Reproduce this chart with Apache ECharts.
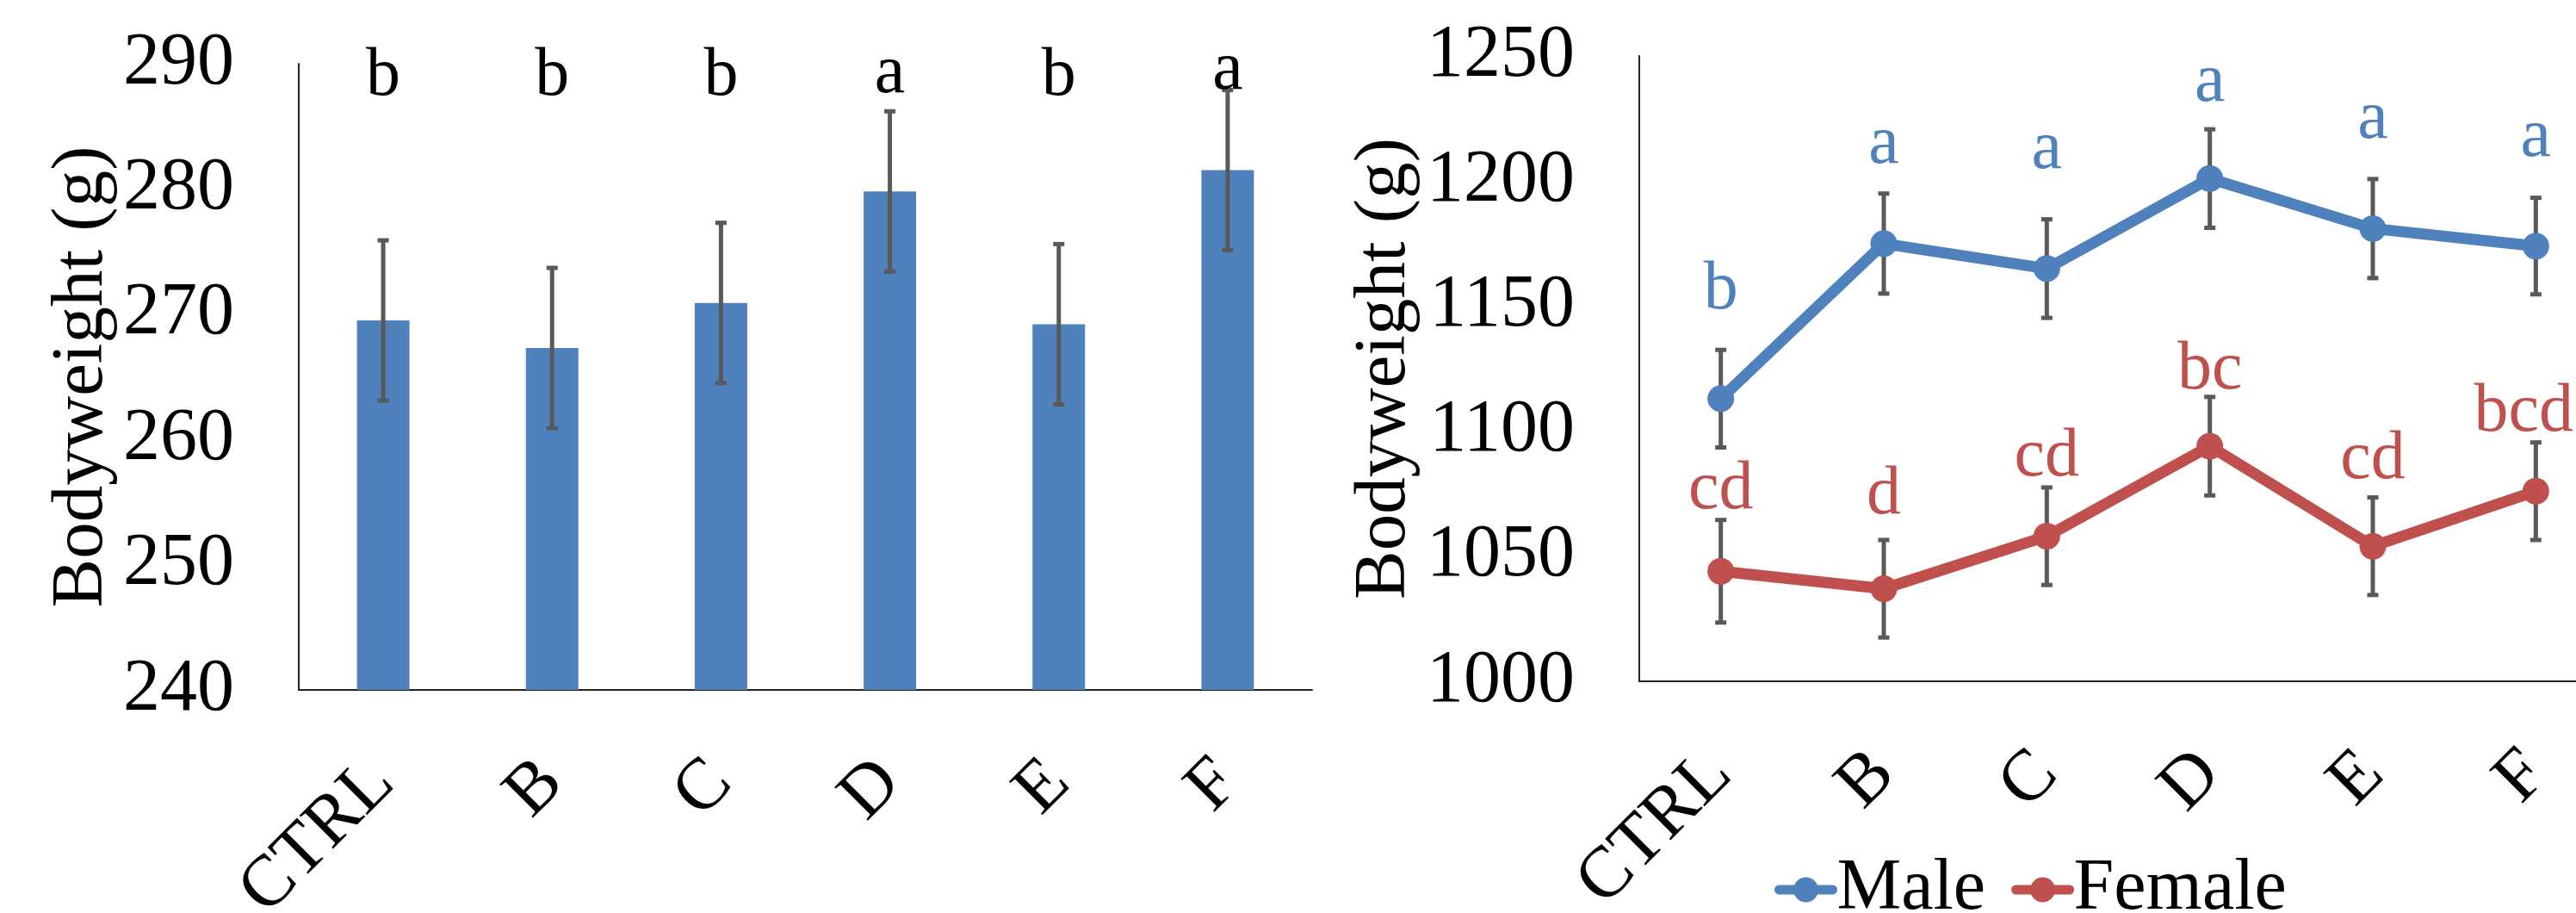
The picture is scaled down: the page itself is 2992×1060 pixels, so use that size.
<!DOCTYPE html>
<html>
<head>
<meta charset="utf-8">
<script src="https://cdn.jsdelivr.net/npm/echarts@6/dist/echarts.min.js"></script>
<style>
  html, body { margin: 0; padding: 0; background: #fff; }
  #main { width: 2992px; height: 1060px; }
</style>
</head>
<body>
<div id="main"></div>
<script>
// groups on both panels
var groups = ['CTRL', 'B', 'C', 'D', 'E', 'F'];

// left panel: bars with error bars
var barMean = [269.5, 267.3, 270.9, 279.8, 269.2, 281.5];
var barErr = [6.4, 6.4, 6.4, 6.4, 6.4, 6.4];
var barLetters = ['b', 'b', 'b', 'a', 'b', 'a'];
var barLetterY = [287.3, 287.3, 287.3, 287.5, 287.3, 287.8];

// right panel: male / female lines
var maleMean = [1113, 1175, 1165, 1201, 1181, 1174];
var maleErr = [19.5, 20, 19.7, 19.7, 19.8, 19.3];
var maleLetters = ['b', 'a', 'a', 'a', 'a', 'a'];
var maleLetterY = [1148, 1206, 1204, 1231, 1216, 1209];

var femaleMean = [1044, 1037, 1058, 1094, 1054, 1076];
var femaleErr = [20.5, 19.5, 19.5, 19.7, 19.5, 19.5];
var femaleLetters = ['cd', 'd', 'cd', 'bc', 'cd', 'bcd'];
var femaleLetterY = [1068, 1066, 1081, 1116, 1080, 1099];

var leftTicks = [240, 250, 260, 270, 280, 290];
var rightTicks = [1000, 1050, 1100, 1150, 1200, 1250];

var FONT = '"Liberation Serif", "Times New Roman", serif';
var BLUE = '#4F81BD', RED = '#C0504D', GREY = '#595959';

function errorSeries(xi, mean, err, z) {
  return {
    type: 'custom',
    xAxisIndex: xi, yAxisIndex: xi, z: z,
    silent: true,
    data: groups.map(function (g, i) { return [i, mean[i] - err[i], mean[i] + err[i]]; }),
    renderItem: function (params, api) {
      var lo = api.coord([api.value(0), api.value(1)]);
      var hi = api.coord([api.value(0), api.value(2)]);
      var c = 6.5;
      var st = { stroke: GREY, lineWidth: 5 };
      return {
        type: 'group',
        children: [
          { type: 'line', shape: { x1: lo[0], y1: lo[1], x2: hi[0], y2: hi[1] }, style: st },
          { type: 'line', shape: { x1: lo[0] - c, y1: lo[1], x2: lo[0] + c, y2: lo[1] }, style: st },
          { type: 'line', shape: { x1: hi[0] - c, y1: hi[1], x2: hi[0] + c, y2: hi[1] }, style: st }
        ]
      };
    }
  };
}

// letters sit with their baseline on the given value
function letterSeries(xi, ys, letters, color, size) {
  return {
    type: 'custom',
    xAxisIndex: xi, yAxisIndex: xi, z: 10,
    silent: true,
    data: groups.map(function (g, i) { return [i, ys[i]]; }),
    renderItem: function (params, api) {
      var p = api.coord([api.value(0), api.value(1)]);
      var x = p[0];
      if (letters[params.dataIndex] === 'bcd') x -= 14;
      return {
        type: 'text',
        style: {
          text: letters[params.dataIndex],
          x: x, y: p[1] - size * 0.305,
          align: 'center', verticalAlign: 'middle',
          fill: color, font: size + 'px ' + FONT
        }
      };
    }
  };
}

function catAxis(gi) {
  return {
    type: 'category', gridIndex: gi, data: groups,
    axisTick: { show: false },
    axisLine: { lineStyle: { color: '#222', width: 2 } },
    axisLabel: { rotate: 45, interval: 0, margin: 95, fontSize: 84, fontFamily: FONT, color: '#000' }
  };
}

function valAxis(gi, ticks, gap) {
  return {
    type: 'value', gridIndex: gi,
    min: ticks[0], max: ticks[ticks.length - 1], interval: ticks[1] - ticks[0],
    splitLine: { show: false },
    axisTick: { show: false },
    axisLine: { show: true, lineStyle: { color: '#222', width: 2 } },
    axisLabel: {
      margin: 75, fontSize: 86, fontFamily: FONT, color: '#000',
      formatter: function (v) { return String(v); }
    },
    name: 'Bodyweight (g)', nameLocation: 'middle', nameGap: gap,
    nameMoveOverlap: false,
    nameTextStyle: { fontSize: 85, fontFamily: FONT, color: '#000' }
  };
}

var option = {
  backgroundColor: '#fff',
  animation: false,
  grid: [
    { left: 347, top: 74, width: 1177, height: 727, containLabel: false, outerBoundsMode: 'none' },
    { left: 1904, top: 65, width: 1136, height: 726, containLabel: false, outerBoundsMode: 'none' }
  ],
  legend: {
    data: ['Male', 'Female'],
    left: 2056, top: 986,
    itemWidth: 62, itemHeight: 36, itemGap: 30,
    lineStyle: { width: 11, cap: 'round' },
    textStyle: { fontSize: 84, fontFamily: FONT, color: '#000' }
  },
  xAxis: [catAxis(0), catAxis(1)],
  yAxis: [valAxis(0, leftTicks, 209), valAxis(1, rightTicks, 253)],
  series: [
    {
      type: 'bar', xAxisIndex: 0, yAxisIndex: 0,
      data: barMean, barWidth: 61,
      itemStyle: { color: BLUE }, z: 2
    },
    errorSeries(0, barMean, barErr, 5),
    letterSeries(0, barLetterY, barLetters, '#000', 80),
    errorSeries(1, maleMean, maleErr, 1),
    errorSeries(1, femaleMean, femaleErr, 1),
    {
      name: 'Male', type: 'line', xAxisIndex: 1, yAxisIndex: 1,
      data: maleMean, symbol: 'circle', symbolSize: 31, z: 3,
      lineStyle: { color: BLUE, width: 13 }, itemStyle: { color: BLUE }
    },
    {
      name: 'Female', type: 'line', xAxisIndex: 1, yAxisIndex: 1,
      data: femaleMean, symbol: 'circle', symbolSize: 31, z: 3,
      lineStyle: { color: RED, width: 13 }, itemStyle: { color: RED }
    },
    letterSeries(1, maleLetterY, maleLetters, BLUE, 80),
    letterSeries(1, femaleLetterY, femaleLetters, RED, 80)
  ]
};

var chart = echarts.init(document.getElementById('main'));
chart.setOption(option);
</script>
</body>
</html>
